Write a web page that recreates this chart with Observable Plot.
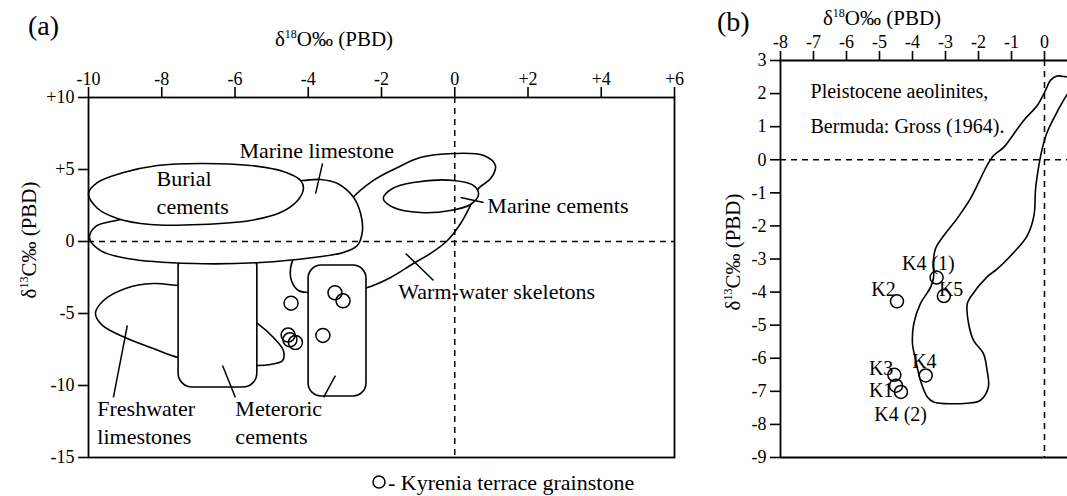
<!DOCTYPE html>
<html><head><meta charset="utf-8">
<script src="https://cdn.jsdelivr.net/npm/d3@7"></script>
<script src="https://cdn.jsdelivr.net/npm/@observablehq/plot@0.6"></script>
<style>
body{margin:0;background:#fff;}
#wrap{position:relative;width:1067px;height:496px;overflow:hidden;background:#fff;}
#pa{position:absolute;left:0;top:0;width:700px;height:496px;}
#pb{position:absolute;left:700px;top:0;width:367px;height:496px;}
#ov{position:absolute;left:0;top:0;pointer-events:none;font-family:'Liberation Serif','Times New Roman',serif;}
</style></head><body>
<div id="wrap"><div id="pa"></div><div id="pb"></div>
<svg id="ov" width="1067" height="496" fill="black">
  <text x="28" y="35" font-size="28">(a)</text>
  <text x="717" y="31" font-size="28">(b)</text>
  <text x="334" y="46" font-size="21" text-anchor="middle">δ<tspan dy="-8" font-size="12">18</tspan><tspan dy="8">O‰ (PBD)</tspan></text>
  <text x="882" y="25" font-size="21" text-anchor="middle">δ<tspan dy="-8" font-size="12">18</tspan><tspan dy="8">O‰ (PBD)</tspan></text>
  <text transform="translate(36,240) rotate(-90)" font-size="21" text-anchor="middle">δ<tspan dy="-8" font-size="12">13</tspan><tspan dy="8">C‰ (PBD)</tspan></text>
  <text transform="translate(740,252) rotate(-90)" font-size="21" text-anchor="middle">δ<tspan dy="-8" font-size="12">13</tspan><tspan dy="8">C‰ (PBD)</tspan></text>
  <circle cx="379" cy="482" r="6" fill="none" stroke="black" stroke-width="1.5"/>
  <text x="388" y="490" font-size="22">- Kyrenia terrace grainstone</text>
</svg>
</div>
<script>
// ---- Kyrenia terrace grainstone samples (shared by both panels) ----
const sampleNames = ["K4 (1)", "K5", "K2", "K4", "K3", "K1", "K4 (2)"];
const d18O = [-3.27, -3.05, -4.47, -3.6, -4.55, -4.5, -4.35];
const d13C = [-3.56, -4.12, -4.28, -6.52, -6.5, -6.83, -7.02];

// ---- panel (a) ticks ----
const xTicksA = [-10, -8, -6, -4, -2, 0, 2, 4, 6];
const yTicksA = [10, 5, 0, -5, -10, -15];
// ---- panel (b) ticks ----
const xTicksB = [-8, -7, -6, -5, -4, -3, -2, -1, 0];
const yTicksB = [3, 2, 1, 0, -1, -2, -3, -4, -5, -6, -7, -8, -9];

// ---- panel (a) field outlines [d18O, d13C] ----
const freshwaterA = [[-7.2,-3.1],[-7.54,-3.06],[-8.23,-2.92],[-8.99,-3.26],[-9.59,-4.1],[-9.81,-5.0],[-9.62,-5.83],[-8.94,-6.74],[-8.23,-7.43],[-7.54,-8.06],[-6.4,-8.4],[-5.39,-8.61],[-5.03,-8.54],[-4.7,-8.26],[-4.68,-7.57],[-4.95,-6.67],[-5.39,-5.69],[-6.4,-4.1]];
const meteoricRectA = [{x1:-7.54, x2:-5.39, y1:-10.14, y2:-0.8}];
const meteoricRect2A = [{x1:-3.99, x2:-2.41, y1:-10.76, y2:-1.67}];
const warmWaterA = [[-3.3,0.8],[-2.85,2.85],[-2.22,4.24],[-1.56,5.14],[-0.94,5.83],[-0.03,6.11],[0.79,5.97],[1.11,5.28],[0.98,4.37],[0.65,3.68],[0.43,2.5],[0.16,1.25],[-0.2,0.07],[-0.66,-0.83],[-1.13,-1.53],[-1.75,-2.5],[-2.38,-3.19],[-3.26,-3.54],[-3.99,-3.54],[-4.27,-3.4],[-4.46,-2.71],[-4.48,-1.81],[-4.38,-1.11],[-3.94,-0.28]];
const marineCementsA = [[-1.95,2.99],[-1.7,3.68],[-1.13,4.1],[-0.03,4.24],[0.51,3.89],[0.65,3.26],[0.43,2.57],[-0.12,2.15],[-0.94,2.01],[-1.67,2.36]];
const marineLimestoneA = [[-5.58,4.03],[-4.16,4.24],[-3.67,4.31],[-3.2,4.03],[-2.76,3.06],[-2.57,1.94],[-2.52,0.76],[-2.66,-0.28],[-3.04,-0.76],[-3.86,-1.11],[-5.3,-1.46],[-7.13,-1.53],[-8.94,-1.18],[-9.67,-0.63],[-9.97,0.21],[-9.81,1.04],[-9.04,1.6],[-7.76,2.85]];
const burialA = [[-10,3.33],[-9.75,4.1],[-9.04,4.79],[-8.12,5.28],[-6.94,5.42],[-5.58,5.28],[-4.68,4.86],[-4.21,4.24],[-4.13,3.68],[-4.29,2.85],[-4.76,2.01],[-5.58,1.46],[-6.94,1.18],[-8.31,1.18],[-9.21,1.6],[-9.75,2.29]];

// ---- panel (a) labels and leaders ----
const labelTextA = ["Marine limestone", "Burial", "cements", "Marine cements", "Warm-water skeletons", "Freshwater", "limestones", "Meteroric", "cements"];
const labelXA = [-5.88, -8.14, -8.14, 0.89, -1.54, -9.76, -9.76, -5.99, -5.99];
const labelYA = [6.32, 4.33, 2.43, 2.5, -3.47, -11.6, -13.54, -11.6, -13.54];
const leadersA = [
  [-3.61, 5.42, -3.8, 3.33], [0.16, 3.06, 0.79, 2.71], [-1.34, -0.83, -0.58, -2.71],
  [-8.94, -5.83, -9.32, -10.83], [-6.34, -8.61, -5.99, -10.83], [-3.26, -9.31, -3.58, -10.83]
];

// ---- panel (b) Bermuda aeolinite envelope ----
const envelopeB = [[0.69,2.5],[0.38,2.53],[0.18,2.4],[0.05,2.14],[-0.02,1.99],[-0.22,1.64],[-0.63,1.19],[-0.93,0.78],[-1.23,0.38],[-1.54,0.13],[-1.74,-0.17],[-1.94,-0.57],[-2.24,-1.17],[-2.65,-1.78],[-3.05,-2.29],[-3.3,-2.68],[-3.37,-3.1],[-3.36,-3.54],[-3.45,-3.85],[-3.76,-4.35],[-3.96,-4.95],[-4.0,-5.56],[-3.9,-6.06],[-3.76,-6.67],[-3.55,-7.17],[-3.36,-7.32],[-2.34,-7.36],[-1.94,-7.27],[-1.7,-6.87],[-1.74,-6.37],[-1.85,-5.86],[-2.15,-5.46],[-2.3,-4.95],[-2.34,-4.35],[-2.24,-4.15],[-1.74,-3.54],[-1.43,-3.3],[-0.93,-2.8],[-0.52,-2.29],[-0.32,-1.69],[-0.27,-0.88],[-0.17,-0.17],[-0.07,0.33],[0.08,0.83],[0.38,1.44],[0.7,1.99],[1.0,2.3],[0.95,2.48]];
const noteB = ["Pleistocene aeolinites,", "Bermuda: Gross (1964)."];
const noteYB = [2.05, 1.0];
const sampleLabelXB = [-3.52, -2.83, -4.88, -3.64, -4.95, -4.95, -4.36];
const sampleLabelYB = [-3.14, -3.92, -3.92, -6.1, -6.31, -6.98, -7.7];
const sampleAnchorB = ["end", "start", "end", "start", "end", "end", "start"];

const FONT = "'Liberation Serif', 'Times New Roman', serif";
const samples = sampleNames.map((n, i) => ({name: n, o: d18O[i], c: d13C[i], lx: sampleLabelXB[i], ly: sampleLabelYB[i], anchor: sampleAnchorB[i]}));
const fmtA = d => d > 0 ? "+" + d : String(d);
const fmtB = d => String(d);
const px = d => d[0], py = d => d[1];
const shape = (data) => Plot.line(data, {x: px, y: py, curve: "catmull-rom-closed", fill: "white", stroke: "black", strokeWidth: 1.6});

const plotA = Plot.plot({
  width: 700, height: 496,
  marginLeft: 88, marginRight: 26, marginTop: 97, marginBottom: 39,
  x: {domain: [-10, 6], label: null},
  y: {domain: [-15, 10], label: null},
  style: {fontFamily: FONT, fontSize: "18px", color: "black", background: "transparent"},
  marks: [
    shape(freshwaterA),
    Plot.rect(meteoricRectA, {x1: "x1", x2: "x2", y1: "y1", y2: "y2", fill: "white", stroke: "black", strokeWidth: 1.6, rx: 14}),
    shape(warmWaterA),
    Plot.rect(meteoricRect2A, {x1: "x1", x2: "x2", y1: "y1", y2: "y2", fill: "white", stroke: "black", strokeWidth: 1.6, rx: 13}),
    shape(marineCementsA),
    shape(marineLimestoneA),
    shape(burialA),
    Plot.ruleX([0], {strokeDasharray: "6,5", strokeWidth: 1.5}),
    Plot.ruleY([0], {strokeDasharray: "6,5", strokeWidth: 1.5}),
    Plot.link(leadersA, {x1: d => d[0], y1: d => d[1], x2: d => d[2], y2: d => d[3], stroke: "black", strokeWidth: 1.5}),
    Plot.dot(samples, {x: "o", y: "c", r: 7, stroke: "black", strokeWidth: 1.5, fill: "none"}),
    Plot.text(labelTextA, {x: (d, i) => labelXA[i], y: (d, i) => labelYA[i], text: d => d, textAnchor: "start", fontSize: 22, fill: "black"}),
    Plot.frame({stroke: "black", strokeWidth: 1.8}),
    Plot.axisX(xTicksA, {anchor: "top", tickSize: 11, tickPadding: 2, tickFormat: fmtA, fontSize: 18, strokeWidth: 1.6}),
    Plot.axisY(yTicksA, {anchor: "left", tickSize: 10, tickPadding: 4, tickFormat: fmtA, fontSize: 18, strokeWidth: 1.6})
  ]
});
document.getElementById("pa").appendChild(plotA);

const plotB = Plot.plot({
  width: 367, height: 496,
  marginLeft: 80, marginRight: 0, marginTop: 60, marginBottom: 39,
  x: {domain: [-8, 0.697], label: null},
  y: {domain: [-9, 3], label: null},
  style: {fontFamily: FONT, fontSize: "18px", color: "black", background: "transparent"},
  marks: [
    Plot.line(envelopeB, {x: px, y: py, curve: "catmull-rom-closed", stroke: "black", strokeWidth: 1.6, clip: true}),
    Plot.ruleX([0], {strokeDasharray: "6,5", strokeWidth: 1.5}),
    Plot.ruleY([0], {strokeDasharray: "6,5", strokeWidth: 1.5}),
    Plot.ruleY([3], {strokeWidth: 1.8}),
    Plot.ruleY([-9], {strokeWidth: 1.8}),
    Plot.ruleX([-8], {strokeWidth: 1.8}),
    Plot.dot(samples, {x: "o", y: "c", r: 6.5, stroke: "black", strokeWidth: 1.5, fill: "none"}),
    Plot.text(samples, {x: "lx", y: "ly", text: "name", textAnchor: d => d.anchor, fontSize: 20, fill: "black"}),
    Plot.text(noteB, {x: -7.09, y: (d, i) => noteYB[i], text: d => d, textAnchor: "start", fontSize: 20, fill: "black"}),
    Plot.axisX(xTicksB, {anchor: "top", tickSize: 10, tickPadding: 3, tickFormat: fmtB, fontSize: 18, strokeWidth: 1.6}),
    Plot.axisY(yTicksB, {anchor: "left", tickSize: 10, tickPadding: 4, tickFormat: fmtB, fontSize: 18, strokeWidth: 1.6})
  ]
});
document.getElementById("pb").appendChild(plotB);
</script>
</body></html>
